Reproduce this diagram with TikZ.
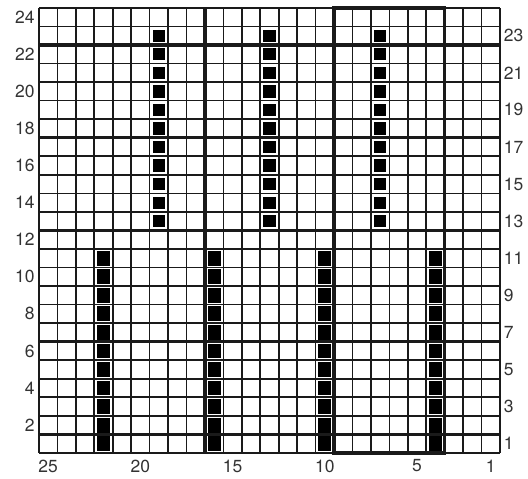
\documentclass[tikz,border=0pt]{standalone}
\usepackage{fontspec}
\setmainfont{TeX Gyre Heros}
\definecolor{gridblack}{HTML}{1A1A1A}
\definecolor{labelgray}{HTML}{333333}

\tikzset{
  thinline/.style={gridblack, line width=1.3pt},
  thickline/.style={gridblack, line width=2.6pt},
  stitch/.style={fill=black},
  rowlabel/.style={labelgray, font=\fontsize{13.5}{15}\selectfont, inner sep=0pt},
}

\begin{document}
\begin{tikzpicture}[x=0.5cm, y=0.5027cm]
  \useasboundingbox (-2.115,-1.40) rectangle (26.52,24.43);

  % grid
  \foreach \i in {0,...,25}
    \draw[thinline] (\i,0) -- (\i,24);
  \foreach \j in {0,...,24}
    \draw[thinline] (0,\j) -- (25,\j);

  % heavy lines
  \foreach \j in {1,6,12,17,22}
    \draw[thickline] (0,\j) -- (25,\j);
  \draw[thickline] (9,0) -- (9,24);
  \draw[thickline] (16,0) rectangle (22,24);

  % filled cells, upper half
  \foreach \i in {6,12,18}
    \foreach \j in {12,...,22}
      \fill[stitch] (\i+0.17,\j+0.17) rectangle (\i+0.83,\j+0.83);
  % filled cells, lower half
  \foreach \i in {3,9,15,21}
    \foreach \j in {0,...,10}
      \fill[stitch] (\i+0.14,\j+0.1) rectangle (\i+0.86,\j+0.9);

  % row numbers
  \foreach \r in {2,4,...,24}
    \node[rowlabel, anchor=east] (left\r) at (-0.22,\r-0.5) {\r};
  \foreach \r in {1,3,...,23}
    \node[rowlabel, anchor=west] (right\r) at (25.2,\r-0.5) {\r};

  % column numbers
  \foreach \c in {25,20,15,10,5,1}
    \node[rowlabel, anchor=north] (col\c) at (25.5-\c,-0.35) {\c};
\end{tikzpicture}
\end{document}
